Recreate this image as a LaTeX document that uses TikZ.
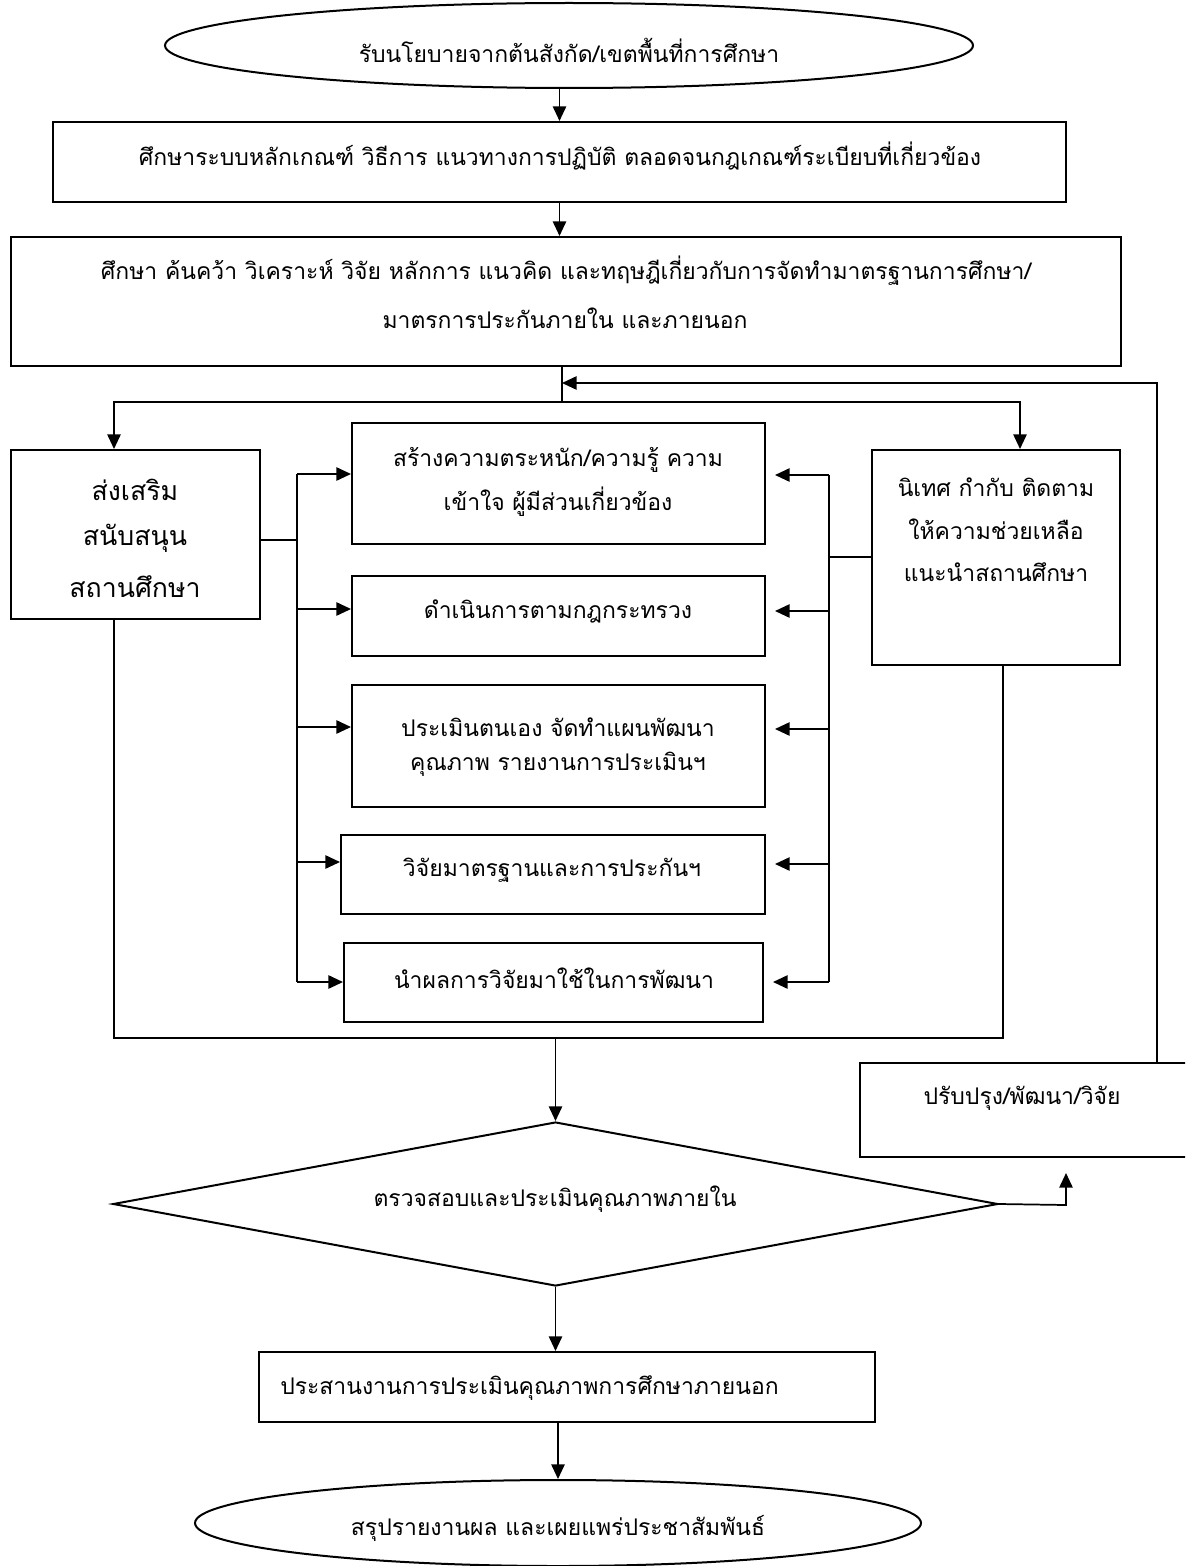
\documentclass[tikz,border=0pt]{standalone}
\usepackage{fontspec}
\newfontfamily\thai[Script=Thai]{Loma}
\usetikzlibrary{shapes.geometric,arrows.meta,fit}
\begin{document}
\begin{tikzpicture}[x=0.75pt,y=-0.75pt,
  box/.style={draw, line width=1.5pt, rectangle, inner sep=0pt},
  oval/.style={draw, line width=1.5pt, ellipse, inner sep=0pt},
  conn/.style={line width=1.3pt},
  arr/.style={conn, -{Triangle[length=11pt,width=10pt]}},
  txt/.style={font=\thai\fontsize{17.2}{20}\selectfont, inner sep=0pt},
  bigtxt/.style={font=\thai\fontsize{20}{24}\selectfont, inner sep=0pt}]
\path[use as bounding box] (0,0) rectangle (1185,1566);
\clip (0,0) rectangle (1185,1566);
% shapes
\node[oval, minimum width=606pt, minimum height=63.75pt] (e1) at (569,45.5) {};
\node[box, fit={(53,122) (1066,202)}] (b2) {};
\node[box, fit={(11,237) (1121,366)}] (b3) {};
\node[box, fit={(11,450) (260,619)}] (lb) {};
\node[box, fit={(872,450) (1120,665)}] (rb) {};
\node[box, fit={(352,423) (765,544)}] (m1) {};
\node[box, fit={(352,576) (765,656)}] (m2) {};
\node[box, fit={(352,685) (765,807)}] (m3) {};
\node[box, fit={(341,835) (765,914)}] (m4) {};
\node[box, fit={(344,943) (763,1022)}] (m5) {};
\node[box, fit={(860,1063) (1200,1157)}] (pb) {};
\node[draw, line width=1.5pt, diamond, inner sep=0pt, minimum width=663.75pt, minimum height=123pt] (dm) at (555.5,1204) {};
\node[box, fit={(259,1352) (875,1422)}] (eb) {};
\node[oval, minimum width=544.5pt, minimum height=64.5pt] (e2) at (558,1523) {};
% texts
\node[txt] (t1) at (569,50) {รับนโยบายจากต้นสังกัด/เขตพื้นที่การศึกษา};
\node[txt] (t2) at (560,156) {ศึกษาระบบหลักเกณฑ์ วิธีการ แนวทางการปฏิบัติ ตลอดจนกฎเกณฑ์ระเบียบที่เกี่ยวข้อง};
\node[txt] (t3a) at (566,271) {ศึกษา ค้นคว้า วิเคราะห์ วิจัย หลักการ แนวคิด และทฤษฎีเกี่ยวกับการจัดทำมาตรฐานการศึกษา/};
\node[txt] (t3b) at (565,318) {มาตรการประกันภายใน และภายนอก};
\node[bigtxt] (tla) at (135,490) {ส่งเสริม};
\node[bigtxt] (tlb) at (135,538) {สนับสนุน};
\node[bigtxt] (tlc) at (135,587) {สถานศึกษา};
\node[txt] (tra) at (996,487) {นิเทศ กำกับ ติดตาม};
\node[txt] (trb) at (996,529) {ให้ความช่วยเหลือ};
\node[txt] (trc) at (996,572) {แนะนำสถานศึกษา};
\node[txt] (tm1a) at (558,460) {สร้างความตระหนัก/ความรู้ ความ};
\node[txt] (tm1b) at (558,502) {เข้าใจ ผู้มีส่วนเกี่ยวข้อง};
\node[txt] (tm2) at (558,611) {ดำเนินการตามกฎกระทรวง};
\node[txt] (tm3a) at (558,727) {ประเมินตนเอง จัดทำแผนพัฒนา};
\node[txt] (tm3b) at (558,764) {คุณภาพ รายงานการประเมินฯ};
\node[txt] (tm4) at (552,870) {วิจัยมาตรฐานและการประกันฯ};
\node[txt] (tm5) at (554,978) {นำผลการวิจัยมาใช้ในการพัฒนา};
\node[txt] (tp) at (1022,1098) {ปรับปรุง/พัฒนา/วิจัย};
\node[txt] (td) at (555,1199) {ตรวจสอบและประเมินคุณภาพภายใน};
\node[txt, anchor=west] (te) at (280,1388) {ประสานงานการประเมินคุณภาพการศึกษาภายนอก};
\node[txt] (tf) at (558,1528) {สรุปรายงานผล และเผยแพร่ประชาสัมพันธ์};
% junction coordinates
\coordinate (j) at (562,402);
\coordinate (jl) at (114,402);
\coordinate (jr) at (1020,402);
\coordinate (fb) at (1157,383);
\coordinate (lc) at (297,540);
\coordinate (rc) at (829,557);
\coordinate (L1) at (297,474);
\coordinate (L2) at (297,609);
\coordinate (L3) at (297,727);
\coordinate (L4) at (297,862);
\coordinate (L5) at (297,982);
\coordinate (R1) at (829,475);
\coordinate (R2) at (829,611);
\coordinate (R3) at (829,729);
\coordinate (R4) at (829,864);
\coordinate (R5) at (829,982);
\coordinate (bl) at (114,1038);
\coordinate (br) at (1003,1038);
\coordinate (pc) at (1066,1205);
% connectors
\draw[arr] (e1.south -| b2.north) -- (b2.north);
\draw[arr] (b2.south) -- (b2.south |- b3.north);
\draw[conn] (b3.south -| j) -- (j);
\draw[arr] (j) -- (jl) -- (jl |- lb.north);
\draw[arr] (j) -- (jr) -- (jr |- rb.north);
\draw[arr] (fb |- pb.north) -- (fb) -- (fb -| j);
\draw[conn] (lb.east |- lc) -- (lc);
\draw[conn] (L1) -- (L5);
\draw[arr] (L1) -- (L1 -| m1.west);
\draw[arr] (L2) -- (L2 -| m2.west);
\draw[arr] (L3) -- (L3 -| m3.west);
\draw[arr] (L4) -- (L4 -| m4.west);
\draw[arr] (L5) -- (L5 -| m5.west);
\draw[conn] (rb.west |- rc) -- (rc);
\draw[conn] (R1) -- (R5);
\draw[arr, shorten >=6.75pt] (R1) -- (R1 -| m1.east);
\draw[arr, shorten >=6.75pt] (R2) -- (R2 -| m2.east);
\draw[arr, shorten >=6.75pt] (R3) -- (R3 -| m3.east);
\draw[arr, shorten >=6.75pt] (R4) -- (R4 -| m4.east);
\draw[arr, shorten >=6.75pt] (R5) -- (R5 -| m5.east);
\draw[conn] (lb.south -| bl) -- (bl) -- (br) -- (br |- rb.south);
\draw[arr] (dm.north |- bl) -- (dm.north);
\draw[arr, shorten >=11.25pt] (dm.east) -- (pc) -- (pc |- pb.south);
\draw[arr] (dm.south) -- (dm.south |- eb.north);
\draw[arr] (eb.south -| e2.north) -- (e2.north);
\end{tikzpicture}
\end{document}
